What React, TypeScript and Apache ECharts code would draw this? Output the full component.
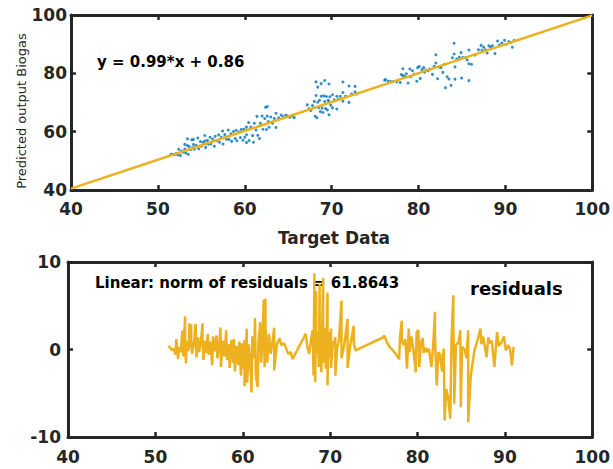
import React, { useEffect, useRef } from "react";
import * as echarts from "echarts";

// Fit coefficients
const fitSlope = 0.99;
const fitIntercept = 0.86;
const normOfResiduals = "61.8643";

// [target, residual] pairs, in target order
const clusterA: [number, number][] = [
  [51.5, 0.4], [51.7, 0.2], [51.9, -0.1], [52.1, 0.1], [52.3, -0.6], [52.4, 1.2],
  [52.6, -1.1], [52.7, 0.3], [52.9, -0.3], [53.1, 2.2], [53.1, 0.6], [53.2, -0.8],
  [53.4, 3.8], [53.4, 1.5], [53.5, -1.6], [53.6, 1.0], [53.8, -0.2], [53.9, 3.0],
  [54.0, 0.2], [54.1, 2.9], [54.1, 1.2], [54.2, -0.5], [54.4, 0.6], [54.6, 2.9],
  [54.7, -0.9], [54.9, 1.4], [55.0, -0.3], [55.2, 0.8], [55.4, 3.0], [55.4, 1.1],
  [55.5, -1.2], [55.7, 1.0], [55.8, -0.4], [56.0, 1.8], [56.1, -0.6], [56.3, 0.9],
  [56.5, -1.8], [56.6, 1.5], [56.8, -0.2], [57.0, 1.6], [57.1, -1.0], [57.3, 0.5],
  [57.45, 2.5], [57.5, -2.0], [57.7, 1.0], [57.9, -0.8], [58.1, 2.2], [58.2, -1.2],
  [58.4, 0.6], [58.5, -2.1], [58.7, 1.1], [58.9, -1.5], [59.0, 1.2], [59.1, -2.5],
  [59.3, 0.4], [59.5, -1.8], [59.6, 0.9], [59.8, -3.0], [59.9, 0.7], [60.0, -2.2],
  [60.2, 1.1], [60.2, -1.5], [60.2, -4.2], [60.45, 2.4], [60.5, -3.8], [60.7, 0.6],
  [60.9, -2.5], [61.0, -4.9], [61.1, 1.5], [61.3, -1.0], [61.4, 3.6], [61.5, -3.0],
  [61.7, -4.3], [61.8, 0.8], [62.0, 3.1], [62.1, -1.5], [62.3, 2.0], [62.4, 5.7],
  [62.5, -2.0], [62.6, 5.8], [62.6, 2.5], [62.7, 0.5], [62.8, -1.5], [63.0, 1.8],
  [63.2, -0.5], [63.4, 0.9], [63.6, 2.5], [63.6, -2.4], [63.9, 0.6], [64.2, 1.3],
  [64.4, 0.5], [64.7, 0.7], [64.9, 0.3], [65.2, -0.5], [65.5, -0.3], [65.7, -1.1],
];

const clusterB: [number, number][] = [
  [67.2, 1.8], [67.4, 0.3], [67.6, -0.5], [67.8, 1.0], [68.0, 2.2], [68.1, -3.0],
  [68.2, 8.7], [68.2, 4.0], [68.3, -3.7], [68.4, 6.7], [68.4, 1.5], [68.5, -0.5],
  [68.6, 2.0], [68.7, -2.0], [68.8, 7.5], [68.8, 3.2], [68.9, -1.0], [69.0, -2.6],
  [69.1, 3.0], [69.2, 8.2], [69.2, 1.0], [69.3, -1.5], [69.4, 2.5], [69.5, -2.2],
  [69.6, 1.0], [69.7, 6.5], [69.7, 0.5], [69.7, -4.1], [69.8, 2.0], [69.9, -1.0],
  [70.1, 2.4], [70.1, -2.1], [70.3, 0.5], [70.6, 1.4], [70.6, -3.0], [70.8, 0.2],
  [71.0, 1.0], [71.3, 5.6], [71.3, 2.0], [71.3, -1.0], [71.6, 0.4], [72.0, 3.5],
  [72.0, -2.1], [72.3, 0.5], [72.7, 2.7], [72.7, 0.8], [72.9, -0.1],
];

const clusterC: [number, number][] = [
  [76.1, 1.4], [76.2, 1.6], [76.5, 0.8], [76.8, 0.3], [77.1, 0.0], [77.5, -0.5],
  [77.9, -1.1], [78.0, 1.5], [78.2, 3.3], [78.2, 1.0], [78.4, 0.5], [78.6, 1.2],
  [78.8, -2.2], [79.0, 2.4], [79.1, -0.3], [79.3, 1.5], [79.5, 0.2], [79.8, -2.6],
  [79.9, 2.0], [80.1, 2.2], [80.2, -2.0], [80.4, 0.8], [80.6, 1.3], [80.7, -0.4],
  [80.9, 0.2], [81.1, -0.3], [81.3, 0.1], [81.6, -2.0], [81.8, 0.6], [82.0, 4.3],
  [82.0, 1.5], [82.2, -4.1], [82.4, -0.3], [82.6, -0.6], [82.8, -2.5], [83.0, 0.1],
  [83.1, -8.1], [83.3, -4.5], [83.5, -5.5], [83.75, -7.9], [83.9, 1.4], [84.1, 6.2],
  [84.1, 2.5], [84.2, -2.0], [84.2, -6.2], [84.4, 0.5], [84.7, 0.8], [84.9, 2.2],
  [84.96, -6.6], [85.1, 0.3], [85.4, 0.0], [85.6, -1.0], [85.8, 2.2], [85.8, -2.5],
  [85.8, -8.3], [86.1, -3.0], [86.5, -0.2], [86.9, 1.2], [87.2, 2.4], [87.3, 0.6],
  [87.5, 1.5], [87.7, 0.4], [87.9, -0.9], [88.1, 1.4], [88.3, 0.7], [88.5, 1.0],
  [88.8, -2.0], [89.1, 2.0], [89.3, 0.4], [89.6, 0.8], [89.9, 1.5], [90.1, -0.1],
  [90.4, 0.5], [90.6, 0.0], [90.8, -1.8], [91.0, 0.3],
];

const xTickRange = { min: 40, max: 100, interval: 10 };
const topYRange = { min: 40, max: 100, interval: 20 };
const bottomYRange = { min: -10, max: 10, interval: 10 };

const FRAME = "#262626";
const BLUE = "#0072BD";
const ORANGE = "#EDB120";
const FONT = "DejaVu Sans";

export default function App() {
  const ref = useRef<HTMLDivElement>(null);

  useEffect(() => {
    if (!ref.current) return;
    const chart = echarts.init(ref.current, undefined, { renderer: "svg" });

    const residuals = [...clusterA, ...clusterB, ...clusterC];
    const predicted = residuals.map(([x, r]) => [x, fitSlope * x + fitIntercept + r]);
    const fitLine = [xTickRange.min, xTickRange.max].map((x) => [x, fitSlope * x + fitIntercept]);

    const axisLine = { show: true, onZero: false, lineStyle: { color: FRAME, width: 3 } };
    const axisTick = { show: true, inside: true, length: 5, lineStyle: { color: FRAME, width: 2.5 } };
    const label = (margin: number) => ({
      color: FRAME,
      fontSize: 17,
      fontWeight: "bold" as const,
      fontFamily: FONT,
      margin,
    });

    const xAxisBase = (gridIndex: number, position: "bottom" | "top", margin: number) => ({
      type: "value" as const,
      gridIndex,
      position,
      ...xTickRange,
      axisLine,
      axisTick,
      splitLine: { show: false },
      axisLabel: position === "bottom" ? label(margin) : { show: false },
    });
    const yAxisBase = (
      gridIndex: number,
      position: "left" | "right",
      range: { min: number; max: number; interval: number },
      margin: number
    ) => ({
      type: "value" as const,
      gridIndex,
      position,
      ...range,
      axisLine,
      axisTick,
      splitLine: { show: false },
      axisLabel: position === "left" ? label(margin) : { show: false },
    });

    chart.setOption({
      animation: false,
      backgroundColor: "#ffffff",
      grid: [
        { left: 71, top: 15, width: 526, height: 175 },
        { left: 68, top: 262, width: 526, height: 175 },
      ],
      xAxis: [
        xAxisBase(0, "bottom", 10),
        xAxisBase(0, "top", 0),
        xAxisBase(1, "bottom", 11),
        xAxisBase(1, "top", 0),
      ],
      yAxis: [
        yAxisBase(0, "left", topYRange, 4),
        yAxisBase(0, "right", topYRange, 0),
        yAxisBase(1, "left", bottomYRange, 7),
        yAxisBase(1, "right", bottomYRange, 0),
      ],
      graphic: [
        {
          type: "text",
          x: 97,
          y: 62,
          z: 1,
          style: {
            text: `y = ${fitSlope}*x + ${fitIntercept}`,
            font: `bold 15px "${FONT}"`,
            fill: "#000000",
            verticalAlign: "middle",
          },
        },
        {
          type: "text",
          x: 334,
          y: 238,
          style: {
            text: "Target Data",
            font: `bold 17px "${FONT}"`,
            fill: FRAME,
            align: "center",
            verticalAlign: "middle",
          },
        },
        {
          type: "text",
          x: 21,
          y: 111,
          rotation: Math.PI / 2,
          style: {
            text: "Predicted output Biogas",
            font: `13px "${FONT}"`,
            fill: FRAME,
            align: "center",
            verticalAlign: "middle",
          },
        },
        {
          type: "text",
          x: 95,
          y: 283,
          z: 0,
          style: {
            text: `Linear: norm of residuals = ${normOfResiduals}`,
            font: `bold 15px "${FONT}"`,
            fill: "#000000",
            verticalAlign: "middle",
          },
        },
        {
          type: "text",
          x: 470,
          y: 288,
          z: 0,
          style: {
            text: "residuals",
            font: `bold 18px "${FONT}"`,
            fill: "#000000",
            verticalAlign: "middle",
          },
        },
      ],
      series: [
        {
          type: "scatter",
          xAxisIndex: 0,
          yAxisIndex: 0,
          data: predicted,
          symbolSize: 3,
          itemStyle: { color: BLUE },
          z: 2,
        },
        {
          type: "line",
          xAxisIndex: 0,
          yAxisIndex: 0,
          data: fitLine,
          showSymbol: false,
          lineStyle: { color: ORANGE, width: 2.5 },
          z: 3,
        },
        {
          type: "line",
          xAxisIndex: 2,
          yAxisIndex: 2,
          data: residuals,
          showSymbol: false,
          lineStyle: { color: ORANGE, width: 2.5 },
          z: 3,
        },
      ],
    });

    return () => chart.dispose();
  }, []);

  return (
    <div
      ref={ref}
      style={{ position: "fixed", left: 0, top: 0, width: 613, height: 469, background: "#fff" }}
    />
  );
}
